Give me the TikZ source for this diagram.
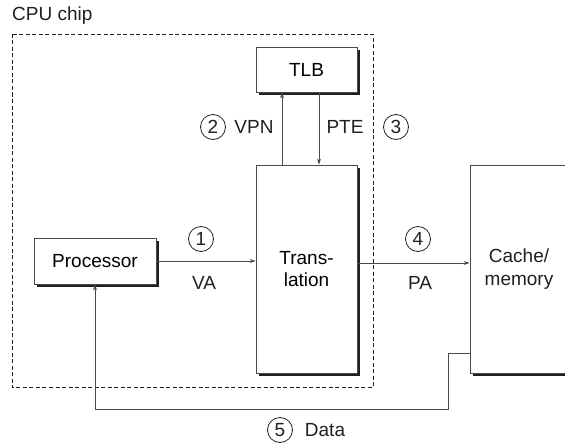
\documentclass[tikz,border=0pt]{standalone}
\usepackage{fontspec}
\setmainfont{Liberation Sans}
\usetikzlibrary{shadows,arrows.meta}
\definecolor{ink}{HTML}{231F20}
\definecolor{ln}{HTML}{4A4A4A}
\tikzset{
  box/.style={draw=ln, line width=0.9pt, fill=white, inner sep=0pt,
    drop shadow={shadow xshift=3pt, shadow yshift=-3pt, opacity=1, fill=ink}},
  num/.style={circle, draw=ink, line width=0.8pt, inner sep=0pt, minimum size=25pt, text=ink},
  lbl/.style={text=ink, inner sep=0pt},
  arr/.style={draw=ln, line width=0.9pt, -{Stealth[length=6pt,width=4pt]}},
  wire/.style={draw=ln, line width=0.9pt},
}
\begin{document}
\begin{tikzpicture}[x=1pt,y=-1pt, font=\fontsize{19}{22.5}\selectfont]
\useasboundingbox (0,0) rectangle (565,444);
\clip (0,0) rectangle (565,444);
% dashed chip boundary
\draw[ink, line width=0.8pt, dash pattern=on 4pt off 2.5pt] (12,34) rectangle (373,387);
\node[lbl, anchor=west] (cpu) at (12,16) {CPU chip};
% boxes
\node[box, minimum width=101pt, minimum height=45pt] (tlb) at (306.5,69.5) {TLB};
\node[box, minimum width=101pt, minimum height=208pt, align=center] (trans) at (306.5,269) {Trans-\\lation};
\node[box, minimum width=122pt, minimum height=46pt] (proc) at (95,261) {Processor};
\node[box, minimum width=150pt, minimum height=208pt] (cache) at (545,269) {};
\node[lbl, align=center] (cachetxt) at (519,269) {Cache/\\memory};
% connectors
\draw[arr] (proc.east) -- (proc.east -| trans.west);
\draw[arr] ([yshift=6pt]trans.east) -- ([yshift=6pt]cache.west);
\draw[arr] ([xshift=-24.5pt]trans.north) -- ([xshift=-24.5pt]tlb.south);
\draw[arr] ([xshift=12.5pt]tlb.south) -- ([xshift=12.5pt]trans.north);
\coordinate (d1) at (448,353);
\coordinate (d2) at (448,409);
\coordinate (d3) at (95,409);
\draw[arr] (cache.west |- d1) -- (d1) -- (d2) -- (d3) -- (proc.south);
% labels
\node[num] (n1) at (201,239) {1};
\node[lbl] (va) at (204,283) {VA};
\node[num] (n2) at (213,127) {2};
\node[lbl] (vpn) at (254,127) {VPN};
\node[lbl] (pte) at (345,127) {PTE};
\node[num] (n3) at (396,127) {3};
\node[num] (n4) at (418,239) {4};
\node[lbl] (pa) at (420,283) {PA};
\node[num] (n5) at (280,430) {5};
\node[lbl] (data) at (325,430) {Data};
\end{tikzpicture}
\end{document}
